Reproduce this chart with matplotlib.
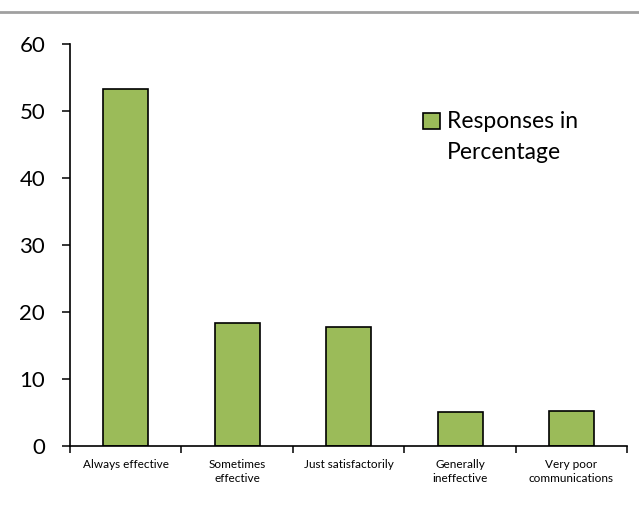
import matplotlib
matplotlib.use("Agg")
import matplotlib.pyplot as plt
from matplotlib.lines import Line2D
from matplotlib.patches import Rectangle

categories = ["Always effective", "Sometimes\neffective", "Just satisfactorily",
              "Generally\nineffective", "Very poor\ncommunications"]
values = [53.3, 18.4, 17.8, 5.1, 5.2]
series_name = "Responses in\nPercentage"
yticks = [0, 10, 20, 30, 40, 50, 60]
bar_color = "#9BBB59"

plt.rcParams['font.family'] = ['Lato', 'DejaVu Sans']

fig = plt.figure(figsize=(6.39, 5.15), dpi=100)
ax = fig.add_axes([0.1095, 0.134, 0.872, 0.7806])

x = list(range(len(categories)))
ax.bar(x, values, width=0.404, color=bar_color, edgecolor="black", linewidth=1.2)

ax.set_xlim(-0.5, len(categories) - 0.5)
ax.set_ylim(0, 60)
ax.set_yticks(yticks)
ax.set_yticklabels([str(v) for v in yticks], fontsize=16)
ax.set_xticks(x)
ax.set_xticklabels(categories, fontsize=8.5, linespacing=1.35)
ax.tick_params(axis='x', which='major', length=0, pad=9.5)
ax.set_xticks([i - 0.5 for i in range(len(categories) + 1)], minor=True)
ax.tick_params(axis='x', which='minor', length=5, width=1.1, direction='out')
ax.tick_params(axis='y', length=5.8, width=1.1, direction='out', pad=12)

for s in ['top', 'right']:
    ax.spines[s].set_visible(False)
for s in ['left', 'bottom']:
    ax.spines[s].set_linewidth(1.2)
    ax.spines[s].set_color('black')

# legend drawn as patch + text
ax.add_patch(Rectangle((0.6335, 0.788), 0.0305, 0.0398, transform=ax.transAxes,
                       facecolor=bar_color, edgecolor="black", linewidth=1.2,
                       clip_on=False))
ax.text(0.676, 0.7145, series_name, transform=ax.transAxes, fontsize=16.5,
        va='baseline', ha='left', linespacing=1.57)

fig.add_artist(Line2D([0, 1], [0.977, 0.977], color="#a0a0a0", linewidth=2,
                      transform=fig.transFigure))

fig.savefig("out.png", dpi=100)
